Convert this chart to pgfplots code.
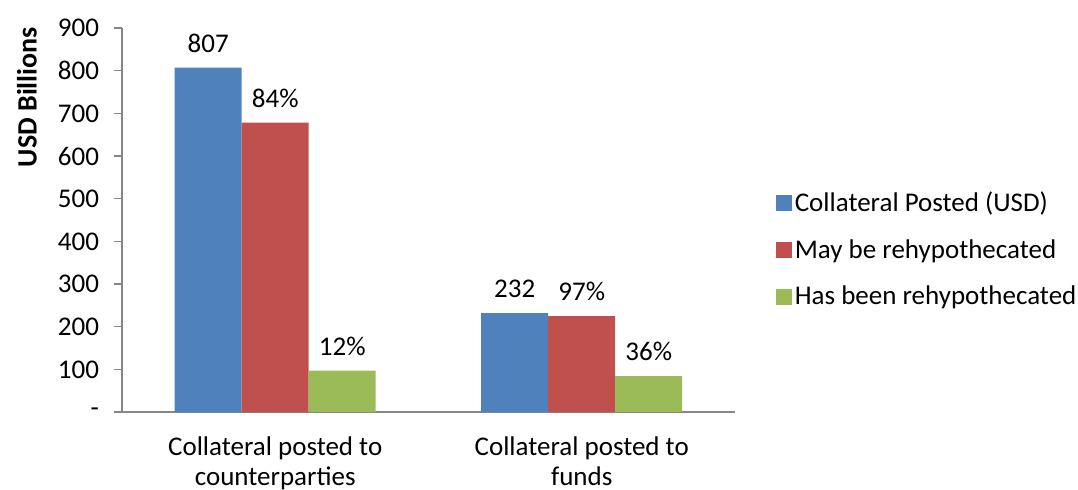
\documentclass[border=0pt]{standalone}
\usepackage{pgfplots}
\pgfplotsset{compat=1.18}
\usepackage{pgfplotstable}
\usepackage{fontspec}
\setmainfont{Carlito}

\definecolor{xblue}{HTML}{4F81BD}
\definecolor{xred}{HTML}{C0504D}
\definecolor{xgreen}{HTML}{9BBB59}
\definecolor{axgray}{HTML}{868686}

% x = category index, v = USD billions, lab = label shown above the bar
\pgfplotstableread{
x v lab
0 807 807
1 232 232
}\posted
\pgfplotstableread{
x v lab
0 678 84\%
1 225 97\%
}\mayrehyp
\pgfplotstableread{
x v lab
0 97 12\%
1 84 36\%
}\hasrehyp

\newcommand\chartfont{\fontsize{13.5}{15}\selectfont}

\begin{document}
\begin{tikzpicture}
\path[use as bounding box] (-61pt,-38.5pt) rectangle (478pt,206pt);
\begin{axis}[
  at={(0,0)}, anchor=south west,
  scale only axis, width=306.5pt, height=192pt,
  font=\chartfont,
  ybar=0pt, bar width=33.5pt,
  xmin=-0.5, xmax=1.5, ymin=0, ymax=900,
  axis x line*=bottom, axis y line*=left,
  axis line style={axgray, line width=0.8pt},
  xtick={0,1},
  xticklabels={Collateral posted to\\counterparties, Collateral posted to\\funds},
  xticklabel style={align=center, yshift=-5pt},
  major x tick style={draw=none},
  extra x ticks={-0.5,0.5,1.5},
  extra x tick labels={},
  extra x tick style={major tick length=6pt, tick style={axgray, line width=0.8pt}},
  ytick={0,100,...,900},
  yticklabels={-,100,200,300,400,500,600,700,800,900},
  major tick length=4pt,
  tick align=outside,
  tick style={axgray, line width=0.8pt},
  yticklabel style={xshift=-4pt},
  ylabel={\fontsize{14}{15}\selectfont\textbf{USD Billions}},
  ylabel style={at={(axis description cs:-0.155,0.82)}, anchor=center, rotate=0},
  point meta=explicit symbolic,
  nodes near coords={\pgfplotspointmeta},
  nodes near coords style={anchor=south, yshift=4pt, font=\chartfont},
  legend style={at={(axis description cs:1.066,0.583)}, anchor=north west,
    draw=none, fill=none, inner sep=0pt, row sep=9.5pt,
    font=\chartfont,
    nodes={inner sep=1.5pt}},
  legend cell align=left,
  legend image code/.code={\fill[#1] (0pt,-4pt) rectangle (8pt,4pt);},
]
\addplot[fill=xblue, draw=none] table[x=x, y=v, meta=lab] {\posted};
\addplot[fill=xred, draw=none] table[x=x, y=v, meta=lab] {\mayrehyp};
\addplot[fill=xgreen, draw=none] table[x=x, y=v, meta=lab] {\hasrehyp};
\legend{Collateral Posted (USD), May be rehypothecated, Has been rehypothecated}
\end{axis}
\end{tikzpicture}
\end{document}
